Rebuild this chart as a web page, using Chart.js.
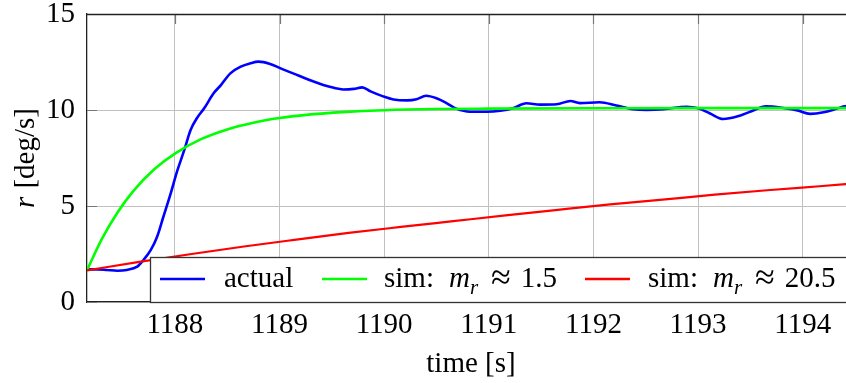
<!DOCTYPE html>
<html>
<head>
<meta charset="utf-8">
<script src="https://cdn.jsdelivr.net/npm/chart.js@4.4.1/dist/chart.umd.min.js"></script>
<style>
  html, body { margin: 0; padding: 0; background: #fff; overflow: hidden; }
  #wrap { width: 860px; height: 383px; }
</style>
</head>
<body>
<div id="wrap"><canvas id="chart" width="860" height="383"></canvas></div>
<script>
const SERIF = '"Liberation Serif", "Times New Roman", serif';

const timeTicks = [1188, 1189, 1190, 1191, 1192, 1193, 1194];
const rateTicks = [0, 5, 10, 15];

// measured yaw rate
const actualT = [1187.16, 1187.26, 1187.35, 1187.45, 1187.54, 1187.64, 1187.70, 1187.77, 1187.83, 1187.89,
  1187.96, 1188.02, 1188.09, 1188.15, 1188.21, 1188.28, 1188.37, 1188.44, 1188.53, 1188.63,
  1188.72, 1188.80, 1188.91, 1189.01, 1189.17, 1189.32, 1189.48, 1189.61, 1189.71, 1189.79,
  1189.87, 1189.99, 1190.09, 1190.22, 1190.31, 1190.40, 1190.50, 1190.60, 1190.69, 1190.82,
  1190.98, 1191.11, 1191.23, 1191.36, 1191.49, 1191.65, 1191.78, 1191.87, 1192.06, 1192.22,
  1192.38, 1192.51, 1192.67, 1192.89, 1193.00, 1193.11, 1193.24, 1193.38, 1193.51, 1193.65,
  1193.83, 1193.95, 1194.07, 1194.20, 1194.32, 1194.40, 1194.50];
const actualR = [1.70, 1.70, 1.67, 1.63, 1.67, 1.84, 2.19, 2.71, 3.40, 4.44,
  5.66, 6.79, 7.92, 8.96, 9.57, 10.09, 10.87, 11.30, 11.91, 12.26,
  12.43, 12.52, 12.40, 12.17, 11.82, 11.50, 11.21, 11.07, 11.10, 11.18,
  10.97, 10.71, 10.55, 10.50, 10.56, 10.74, 10.61, 10.35, 10.07, 9.91,
  9.91, 9.96, 10.09, 10.35, 10.28, 10.30, 10.47, 10.36, 10.40, 10.23,
  10.04, 10.00, 10.04, 10.17, 10.09, 9.83, 9.53, 9.67, 9.94, 10.19,
  10.09, 9.98, 9.80, 9.88, 10.06, 10.19, 10.25];

// simulation m_r ~ 1.5
const simAT = [1187.16, 1187.30, 1187.45, 1187.60, 1187.80, 1188.00, 1188.25, 1188.50, 1188.75, 1189.00,
  1189.30, 1189.60, 1190.00, 1190.50, 1191.00, 1192.00, 1193.00, 1194.50];
const simAR = [1.65, 3.26, 4.65, 5.76, 6.90, 7.73, 8.48, 8.99, 9.34, 9.58,
  9.77, 9.89, 9.99, 10.05, 10.07, 10.09, 10.10, 10.10];

// simulation m_r ~ 20.5
const simBT = [1187.16, 1187.66, 1188.16, 1188.66, 1189.16, 1189.66, 1190.16, 1190.66, 1191.16, 1191.66,
  1192.16, 1192.66, 1193.16, 1193.66, 1194.16, 1194.66];
const simBR = [1.65, 2.09, 2.50, 2.89, 3.25, 3.60, 3.91, 4.21, 4.51, 4.80,
  5.08, 5.33, 5.59, 5.82, 6.03, 6.24];

const legendItems = [
  { color: "#0000ff", line: 160, text: 224, parts: [["actual", "n", 0]] },
  { color: "#00ff00", line: 322, text: 384, parts: [["sim:", "n", 15], ["m", "i", 0], ["r", "s", 13], ["≈", "b", 10], ["1.5", "n", 0]] },
  { color: "#ff0000", line: 585, text: 648, parts: [["sim:", "n", 15], ["m", "i", 0], ["r", "s", 13], ["≈", "b", 10], ["20.5", "n", 0]] }
];

function pts(xs, ys) {
  return xs.map((x, i) => ({ x: x, y: ys[i] }));
}

function fontFor(style) {
  if (style === "i") return "italic 29px " + SERIF;
  if (style === "s") return "italic 21px " + SERIF;
  if (style === "b") return "36px " + SERIF;
  return "29px " + SERIF;
}

function richWidth(ctx, parts) {
  let w = 0;
  parts.forEach(p => { ctx.font = fontFor(p[1]); w += ctx.measureText(p[0]).width + p[2]; });
  return w;
}

function drawRich(ctx, parts, x, y) {
  parts.forEach(p => {
    ctx.font = fontFor(p[1]);
    let dy = 0;
    if (p[1] === "s") dy = 7;
    if (p[1] === "b") dy = 2;
    ctx.fillText(p[0], x, y + dy);
    x += ctx.measureText(p[0]).width + p[2];
  });
}

const decor = {
  id: "decor",
  beforeDatasetsDraw(chart) {
    const ctx = chart.ctx, a = chart.chartArea;
    const xs = chart.scales.x, ys = chart.scales.y;
    ctx.save();
    ctx.strokeStyle = "#777";
    ctx.lineWidth = 1.2;
    ctx.beginPath();
    timeTicks.forEach(v => {
      const px = Math.round(xs.getPixelForValue(v)) + 0.5;
      ctx.moveTo(px, a.top); ctx.lineTo(px, a.top + 10);
      ctx.moveTo(px, a.bottom); ctx.lineTo(px, a.bottom - 10);
    });
    rateTicks.forEach(v => {
      const py = Math.round(ys.getPixelForValue(v)) + 0.5;
      ctx.moveTo(a.left, py); ctx.lineTo(a.left + 10, py);
    });
    ctx.stroke();
    ctx.strokeStyle = "#222";
    ctx.lineWidth = 1.3;
    ctx.beginPath();
    ctx.moveTo(a.left, a.top + 0.5); ctx.lineTo(a.right, a.top + 0.5);
    ctx.stroke();
    ctx.restore();
  },
  afterDraw(chart) {
    const ctx = chart.ctx, a = chart.chartArea;
    ctx.save();
    ctx.fillStyle = "#000";
    ctx.textBaseline = "alphabetic";

    // axis titles
    ctx.font = "29px " + SERIF;
    ctx.textAlign = "center";
    ctx.fillText("time [s]", (a.left + a.right) / 2, 372);
    ctx.textAlign = "left";
    const yParts = [["r", "i", 8], ["[deg/s]", "n", 0]];
    ctx.translate(34, (a.top + a.bottom) / 2);
    ctx.rotate(-Math.PI / 2);
    drawRich(ctx, yParts, -richWidth(ctx, yParts) / 2, 0);
    ctx.restore();

    // legend box
    ctx.save();
    const lx = a.right - 705, ly = a.bottom - 45;
    ctx.fillStyle = "#fff";
    ctx.fillRect(lx, ly, a.right - lx, a.bottom - ly);
    ctx.strokeStyle = "#333";
    ctx.lineWidth = 1.3;
    ctx.strokeRect(lx + 0.5, ly + 0.5, a.right - lx, a.bottom - ly);
    ctx.textBaseline = "alphabetic";
    ctx.textAlign = "left";
    legendItems.forEach(it => {
      ctx.strokeStyle = it.color;
      ctx.lineWidth = 2.6;
      ctx.beginPath();
      ctx.moveTo(it.line, ly + 22); ctx.lineTo(it.line + 45, ly + 22);
      ctx.stroke();
      ctx.fillStyle = "#000";
      drawRich(ctx, it.parts, it.text, ly + 30);
    });
    ctx.restore();
  }
};

const tickFont = { family: SERIF, size: 29, lineHeight: 1.1 };

new Chart(document.getElementById("chart"), {
  type: "line",
  data: {
    datasets: [
      { label: "actual", data: pts(actualT, actualR), borderColor: "#0000ff", borderWidth: 2.6, pointRadius: 0, tension: 0.3, cubicInterpolationMode: "monotone", order: 3 },
      { label: "sim 1.5", data: pts(simAT, simAR), borderColor: "#00ff00", borderWidth: 2.6, pointRadius: 0, cubicInterpolationMode: "monotone", order: 2 },
      { label: "sim 20.5", data: pts(simBT, simBR), borderColor: "#ff0000", borderWidth: 2.2, pointRadius: 0, cubicInterpolationMode: "monotone", order: 1 }
    ]
  },
  options: {
    responsive: false,
    animation: false,
    devicePixelRatio: 1,
    layout: { padding: { left: 0, top: 14, right: 5, bottom: 0 } },
    plugins: { legend: { display: false }, tooltip: { enabled: false } },
    scales: {
      x: {
        type: "linear", min: 1187.16, max: 1194.5,
        afterBuildTicks: s => { s.ticks = timeTicks.map(v => ({ value: v })); },
        afterFit: s => { s.height = 81; s.paddingLeft = 0; s.paddingRight = 0; },
        grid: { color: "#c0c0c0", lineWidth: 1, drawTicks: false },
        border: { color: "#222", width: 1.3 },
        ticks: { font: tickFont, color: "#000", padding: 7, maxRotation: 0, autoSkip: false, callback: v => String(v) }
      },
      y: {
        type: "linear", min: 0, max: 15,
        afterBuildTicks: s => { s.ticks = rateTicks.map(v => ({ value: v })); },
        afterFit: s => { s.width = 87; s.paddingTop = 0; s.paddingBottom = 0; },
        grid: { color: "#c0c0c0", lineWidth: 1, drawTicks: false },
        border: { color: "#222", width: 1.3 },
        ticks: { font: tickFont, color: "#000", padding: 12, callback: v => String(v) }
      }
    }
  },
  plugins: [decor]
});
</script>
</body>
</html>
